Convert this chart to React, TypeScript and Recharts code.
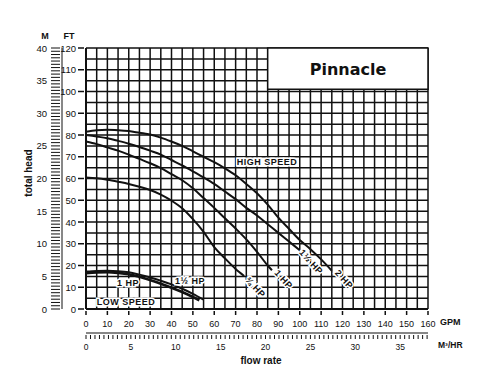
import React from 'react';
import { LineChart, Line, XAxis, YAxis, CartesianGrid, ReferenceArea, ReferenceDot, Customized } from 'recharts';

// high speed curves, flow in GPM / head in FT
const hp2Flow = [0, 5, 10, 15, 20, 25, 30, 35, 40, 45, 50, 55, 60, 65, 70, 75, 80, 85, 90, 95, 100, 105, 110, 115];
const hp2Head = [81.5, 82.2, 82.4, 82.2, 81.8, 81, 80.2, 78.8, 77, 75, 72.5, 70, 67.5, 64.7, 61.5, 57.5, 53.2, 48, 42, 36.8, 31.7, 27.5, 22.8, 17.6];

const hp15Flow = [0, 5, 10, 15, 20, 25, 30, 35, 40, 45, 50, 55, 60, 65, 70, 75, 80, 85, 90, 95, 100];
const hp15Head = [80, 79.3, 78.5, 77.3, 76, 74.5, 72.8, 71, 68.5, 66, 63.3, 60.5, 57.5, 54, 50.5, 46.5, 43, 39, 35, 31, 27];

const hp1Flow = [0, 5, 10, 15, 20, 25, 30, 35, 40, 45, 50, 55, 60, 65, 70, 75, 80, 85, 87];
const hp1Head = [77, 75.8, 74.3, 72.8, 71, 69, 67, 64.8, 62, 59.2, 55.5, 51, 46.5, 41.7, 37, 32, 26.3, 20, 17.8];

const hp34Flow = [0, 5, 10, 15, 20, 25, 30, 35, 40, 45, 50, 55, 60, 65, 70, 74];
const hp34Head = [60.5, 60.1, 59.4, 58.5, 57.5, 56.2, 54.7, 52.6, 49.8, 46.3, 41.3, 35.5, 28.5, 23.3, 18.4, 15.2];

// low speed curves
const low15Flow = [0, 5, 10, 15, 20, 25, 30, 35, 40, 45, 50, 55];
const low15Head = [17.2, 17.5, 17.6, 17.4, 16.9, 15.8, 14.5, 13, 11.3, 9.3, 7, 4.3];

const low1Flow = [0, 5, 10, 15, 20, 25, 30, 35, 40, 45, 50, 53];
const low1Head = [16.5, 16.8, 16.9, 16.6, 16, 14.8, 13.3, 11.6, 9.8, 7.8, 5.5, 4];

// axis labels
const gpmLabels = [0, 10, 20, 30, 40, 50, 60, 70, 80, 90, 100, 110, 120, 130, 140, 150, 160];
const m3Labels = [0, 5, 10, 15, 20, 25, 30, 35];
const ftLabels = [0, 10, 20, 30, 40, 50, 60, 70, 80, 90, 100, 110, 120];
const mLabels = [0, 5, 10, 15, 20, 25, 30, 35, 40];

const steps = (max: number, step: number) => {
  const out: number[] = [];
  for (let v = 0; v <= max + 1e-9; v += step) out.push(Math.round(v * 100) / 100);
  return out;
};
const gpmGrid = steps(160, 5);
const ftGrid = steps(120, 5);
const m3Ruler = steps(38, 0.5);
const mRuler = steps(40, 0.5);

const toPts = (xs: number[], ys: number[]) => xs.map((g, i) => ({ g, h: ys[i] }));

const curves = [
  { name: '2 HP', data: toPts(hp2Flow, hp2Head), w: 2 },
  { name: '1.5 HP', data: toPts(hp15Flow, hp15Head), w: 2 },
  { name: '1 HP', data: toPts(hp1Flow, hp1Head), w: 2 },
  { name: '3/4 HP', data: toPts(hp34Flow, hp34Head), w: 2 },
  { name: 'low 1.5 HP', data: toPts(low15Flow, low15Head), w: 2 },
  { name: 'low 1 HP', data: toPts(low1Flow, low1Head), w: 2.6 },
];

// keeps the secondary axes alive, draws nothing
const anchor = [{ g: 0, h: 0 }, { g: 1, h: 1 }];

const notes = [
  { text: 'HIGH SPEED', g: 84.7, h: 67.4, angle: 0 },
  { text: 'LOW SPEED', g: 18.7, h: 3.2, angle: 0 },
  { text: '1 HP', g: 19.6, h: 12, angle: 0 },
  { text: '1½ HP', g: 48.7, h: 12.9, angle: 0 },
  { text: '2 HP', g: 120.7, h: 13.6, angle: 48 },
  { text: '1½ HP', g: 105.3, h: 21.6, angle: 48 },
  { text: '1 HP', g: 92.4, h: 13.6, angle: 48 },
  { text: '¾ HP', g: 79.2, h: 10, angle: 48 },
];

const font = 'Liberation Sans, Arial, sans-serif';

const GpmTick = ({ x, y, payload }: any) => {
  if (!gpmLabels.includes(payload.value)) return <g />;
  return (
    <g>
      <line x1={x} x2={x} y1={y} y2={y + 4} stroke="#111" strokeWidth={1.5} />
      <text x={x} y={y + 16} textAnchor="middle" fontSize={9} fontFamily={font} fill="#111">{payload.value}</text>
    </g>
  );
};

const M3Tick = ({ x, y, payload }: any) => (
  <g>
    <line x1={x} x2={x} y1={y} y2={y + 4} stroke="#111" strokeWidth={1} />
    {m3Labels.includes(payload.value) && (
      <text x={x} y={y + 15} textAnchor="middle" fontSize={8.5} fontFamily={font} fill="#111">{payload.value}</text>
    )}
  </g>
);

const FtTick = ({ x, y, payload }: any) => {
  if (!ftLabels.includes(payload.value)) return <g />;
  return (
    <g>
      <line x1={x - 6} x2={x} y1={y} y2={y} stroke="#111" strokeWidth={1.5} />
      <text x={x - 8} y={y + 3.5} textAnchor="end" fontSize={9.5} fontFamily={font} fill="#111">{payload.value}</text>
    </g>
  );
};

const MTick = ({ x, y, payload }: any) => (
  <g>
    <line x1={x - 9} x2={x} y1={y} y2={y} stroke="#111" strokeWidth={1} />
    {mLabels.includes(payload.value) && (
      <text x={x - 13} y={y + 3.5} textAnchor="end" fontSize={9.5} fontFamily={font} fill="#111">{payload.value}</text>
    )}
  </g>
);

const NoteShape = (text: string, angle: number) => (p: any) => (
  <text
    x={p.cx}
    y={p.cy}
    transform={angle ? `rotate(${angle} ${p.cx} ${p.cy})` : undefined}
    textAnchor="middle"
    dominantBaseline="central"
    fontSize={9}
    fontWeight="bold"
    fontFamily={font}
    fill="#111"
    stroke="#fff"
    strokeWidth={3}
    paintOrder="stroke"
    letterSpacing={0.5}
  >
    {text}
  </text>
);

const PinnacleShape = (p: any) => (
  <text x={p.cx} y={p.cy} textAnchor="middle" dominantBaseline="central" fontSize={16} fontWeight="bold" fontFamily="DejaVu Sans, sans-serif" fill="#111">
    Pinnacle
  </text>
);

const Titles = () => (
  <g fontFamily={font} fontWeight="bold" fill="#111">
    <text x={37} y={31} textAnchor="middle" fontSize={9}>M</text>
    <text x={61} y={31} textAnchor="middle" fontSize={9}>FT</text>
    <text x={24} y={165} textAnchor="middle" fontSize={10} transform="rotate(-90 24 165)">total head</text>
    <text x={432} y={317} fontSize={9}>GPM</text>
    <text x={430} y={340} fontSize={8.5}>M³/HR</text>
    <text x={253} y={356} textAnchor="middle" fontSize={10}>flow rate</text>
  </g>
);

export default function App() {
  return (
    <LineChart width={480} height={368} margin={{ top: 40, right: 60, bottom: 13, left: 14 }}>
      <CartesianGrid xAxisId="gpm" yAxisId="ft" stroke="#111" strokeWidth={1.5} />
      <XAxis
        xAxisId="gpm"
        dataKey="g"
        type="number"
        domain={[0, 160]}
        ticks={gpmGrid}
        interval={0}
        height={24}
        tickSize={0}
        tickLine={false}
        tick={<GpmTick />}
        axisLine={{ stroke: '#111', strokeWidth: 2 }}
      />
      <XAxis
        xAxisId="m3"
        dataKey="g"
        type="number"
        domain={[0, 38.1]}
        allowDataOverflow
        ticks={m3Ruler}
        interval={0}
        height={30}
        tickSize={0}
        tickLine={false}
        tick={<M3Tick />}
        axisLine={{ stroke: '#111', strokeWidth: 1.2 }}
      />
      <YAxis
        yAxisId="ft"
        type="number"
        domain={[0, 120]}
        ticks={ftGrid}
        interval={0}
        width={24}
        tickSize={0}
        tickLine={false}
        tick={<FtTick />}
        axisLine={{ stroke: '#111', strokeWidth: 2 }}
      />
      <YAxis
        yAxisId="m"
        type="number"
        domain={[0, 40]}
        allowDataOverflow
        ticks={mRuler}
        interval={0}
        width={40}
        tickSize={0}
        tickLine={false}
        tick={<MTick />}
        axisLine={{ stroke: '#111', strokeWidth: 1 }}
      />
      <ReferenceArea xAxisId="gpm" yAxisId="ft" x1={85} x2={160} y1={101} y2={120} fill="#fff" fillOpacity={1} stroke="#111" strokeWidth={1.5} />
      <ReferenceDot xAxisId="gpm" yAxisId="ft" x={122.6} y={109.9} r={0} shape={PinnacleShape} />
      {curves.map((c) => (
        <Line
          key={c.name}
          xAxisId="gpm"
          yAxisId="ft"
          data={c.data}
          dataKey="h"
          type="monotone"
          stroke="#111"
          strokeWidth={c.w}
          dot={false}
          isAnimationActive={false}
        />
      ))}
      <Line xAxisId="m3" yAxisId="m" data={anchor} dataKey="h" stroke="none" dot={false} activeDot={false} isAnimationActive={false} />
      {notes.map((n, i) => (
        <ReferenceDot key={i} xAxisId="gpm" yAxisId="ft" x={n.g} y={n.h} r={0} shape={NoteShape(n.text, n.angle)} />
      ))}
      <Customized component={Titles} />
    </LineChart>
  );
}
